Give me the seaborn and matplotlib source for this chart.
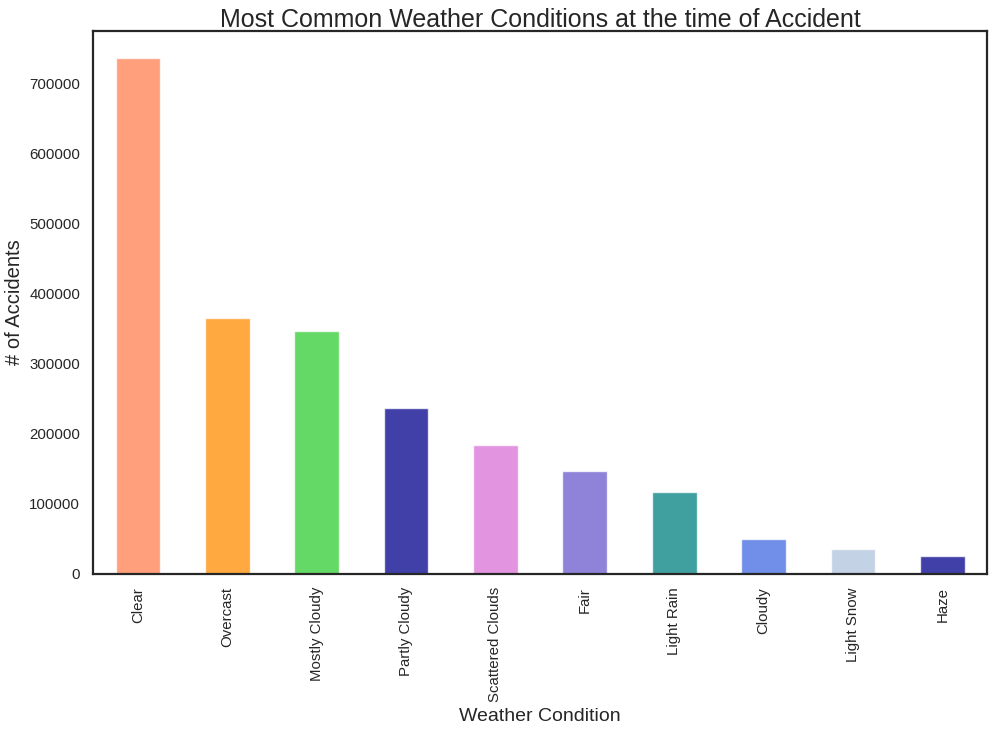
import matplotlib
matplotlib.use("Agg")
import matplotlib.pyplot as plt
import seaborn as sns

# weather conditions and accident counts
conditions = ["Clear", "Overcast", "Mostly Cloudy", "Partly Cloudy", "Scattered Clouds",
              "Fair", "Light Rain", "Cloudy", "Light Snow", "Haze"]
counts = [736600, 364500, 346000, 237300, 184500, 147300, 117300, 50200, 34800, 25800]
colors = ["coral", "darkorange", "limegreen", "darkblue", "orchid",
          "slateblue", "teal", "royalblue", "lightsteelblue", "darkblue"]

sns.set_theme(style="white")
plt.rcParams["font.family"] = ["Liberation Sans", "DejaVu Sans"]

fig, ax = plt.subplots(figsize=(9.92, 7.32), dpi=100)
sns.barplot(x=conditions, y=counts, hue=conditions, palette=colors, width=0.5,
            alpha=0.75, saturation=1, edgecolor="white", linewidth=1,
            legend=False, ax=ax)

ax.set_xlim(-0.5, 9.5)
ax.set_ylim(0, 775000)
ax.set_title("Most Common Weather Conditions at the time of Accident", fontsize=18, pad=3)
ax.set_xlabel("Weather Condition", fontsize=14)
ax.set_ylabel("# of Accidents", fontsize=14.5)
ax.tick_params(axis="x", labelsize=10.8, labelrotation=90)
ax.tick_params(axis="y", labelsize=10.8)
for s in ax.spines.values():
    s.set_color("#262626")
    s.set_linewidth(1.6)

plt.subplots_adjust(left=0.094, right=0.995, top=0.958, bottom=0.216)
plt.savefig("out.png", dpi=100)
